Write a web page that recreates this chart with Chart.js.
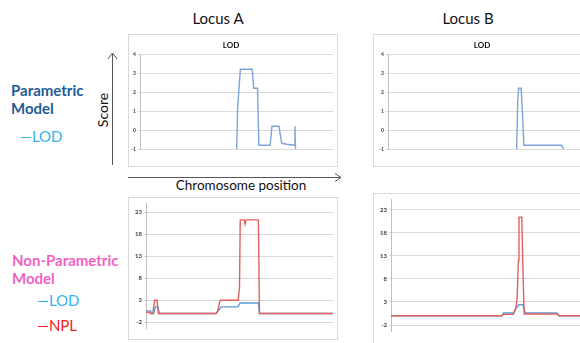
<!DOCTYPE html>
<html>
<head>
<meta charset="utf-8">
<script src="https://cdn.jsdelivr.net/npm/chart.js@4.4.1/dist/chart.umd.min.js"></script>
<style>
  html, body { margin: 0; padding: 0; background: #fff; }
  body { width: 580px; height: 343px; overflow: hidden; position: relative; font-family: Lato, "Open Sans", sans-serif; }
  .box { position: absolute; box-sizing: border-box; border: 1px solid #d9d9d9; background: #fff; }
  .box canvas { position: absolute; left: 0; top: 0; }
  .lbl { position: absolute; white-space: nowrap; transform: translate(-50%, -50%); }
  .side { position: absolute; white-space: nowrap; font-weight: bold; font-size: 15px; line-height: 18px; }
</style>
</head>
<body>

<div class="lbl" style="left:218px;top:18px;font-size:15px;color:#111;">Locus A</div>
<div class="lbl" style="left:468px;top:18px;font-size:15px;color:#111;">Locus B</div>
<div class="lbl" style="left:241px;top:185px;font-size:13.5px;color:#111;">Chromosome position</div>
<div class="lbl" style="left:102px;top:110px;font-size:14px;color:#111;transform:translate(-50%,-50%) rotate(-90deg);">Score</div>

<div class="side" style="left:11px;top:81px;color:#1f5d99;">Parametric<br>Model</div>
<div class="side" style="left:20px;top:127px;color:#35b2ef;font-weight:normal;">—LOD</div>
<div class="side" style="left:12px;top:251px;color:#f062c4;">Non-Parametric<br>Model</div>
<div class="side" style="left:37px;top:291px;color:#35b2ef;font-weight:normal;">—LOD</div>
<div class="side" style="left:37px;top:316px;color:#f41c1c;font-weight:normal;">—NPL</div>

<svg style="position:absolute;left:0;top:0;" width="580" height="343">
  <g stroke="#555" stroke-width="1" fill="none">
    <line x1="112.5" y1="54" x2="112.5" y2="165"/>
    <polyline points="108,59 112.5,53 117,59"/>
    <line x1="128" y1="177.5" x2="340" y2="177.5"/>
    <polyline points="335,173.5 341,177.5 335,181.5"/>
  </g>
</svg>

<div class="box" style="left:128px;top:34px;width:210px;height:133px;"><canvas id="c1"></canvas></div>
<div class="box" style="left:373px;top:34px;width:222px;height:133px;"><canvas id="c2"></canvas></div>
<div class="box" style="left:128px;top:197px;width:210px;height:143px;"><canvas id="c3"></canvas></div>
<div class="box" style="left:373px;top:193px;width:222px;height:160px;"><canvas id="c4"></canvas></div>

<script>
// positions along the chromosome are in % of the plotted range
const paramTicks = [-1, 0, 1, 2, 3, 4];
const npTicks = [-2, 3, 8, 13, 18, 23];

// Locus A, parametric LOD
const aParamPos = [50.1, 50.6, 52.0, 58.1, 58.9, 60.9, 61.6, 67.4, 68.4, 72.0, 73.4, 76.0, 80.0, 80.3, 80.6];
const aParamLod = [-1, 1.2, 3.2, 3.2, 2.2, 2.2, -0.8, -0.8, 0.2, 0.2, -0.7, -0.75, -0.8, 0.2, -1];

// Locus B, parametric LOD
const bParamPos = [63.7, 64.2, 64.7, 65.9, 66.4, 67.3, 86.0, 86.8];
const bParamLod = [-1, 1.5, 2.2, 2.2, 1.2, -0.8, -0.8, -1];

// Locus A, non-parametric
const aNpLodPos = [0, 2.3, 3.2, 4.1, 5.0, 6.4, 7.1, 37.4, 38.4, 40.2, 49.1, 50.4, 60.1, 60.7, 100];
const aNpLod = [0.6, 0.6, 0, 0, 1.5, 1.5, 0, 0, 0.5, 1.5, 1.5, 2.4, 2.4, 0, 0];
const aNplPos = [0, 1.4, 2.3, 3.6, 4.6, 5.9, 6.6, 37.4, 38.2, 39.7, 49.3, 50.0, 50.4, 52.5, 53.0, 53.6, 60.1, 60.7, 100];
const aNpl = [0.3, 0.3, 0, 0, 3, 3, 0, 0, 0.4, 3, 3, 6, 21.3, 21.3, 20.3, 21.3, 21.3, 0, 0];

// Locus B, non-parametric
const bNpLodPos = [0, 55.7, 56.5, 61.5, 62.5, 64.3, 66.2, 67.5, 83.3, 84.5, 100];
const bNpLod = [0, 0, 0.6, 0.6, 1.5, 2.4, 2.4, 0.6, 0.6, 0, 0];
const bNplPos = [0, 55.7, 56.5, 61.5, 62.7, 63.4, 64.0, 64.3, 65.7, 66.2, 66.9, 83.3, 84.5, 100];
const bNpl = [0, 0, 0.3, 0.3, 1.5, 4, 12, 21.4, 21.4, 12, 0.4, 0.4, 0, 0];

function pts(xs, ys) {
    return xs.map(function (x, i) { return { x: x, y: ys[i] }; });
}

function line(label, xs, ys, color, order) {
    return {
        label: label,
        data: pts(xs, ys),
        borderColor: color,
        borderWidth: 1.4,
        pointRadius: 0,
        tension: 0,
        fill: false,
        order: order
    };
}

function makeChart(id, w, h, datasets, o) {
    var cv = document.getElementById(id);
    cv.width = w; cv.height = h;
    cv.style.width = w + 'px'; cv.style.height = h + 'px';
    return new Chart(cv.getContext('2d'), {
        type: 'line',
        data: { datasets: datasets },
        options: {
            responsive: false,
            animation: false,
            layout: { padding: o.padding },
            plugins: {
                legend: { display: false },
                tooltip: { enabled: false },
                title: {
                    display: !!o.title,
                    text: o.title,
                    color: '#111',
                    font: { family: 'Lato', size: 8, weight: 'bold' },
                    padding: { top: 6, bottom: 3.4 }
                }
            },
            scales: {
                x: { type: 'linear', min: 0, max: 100, display: false },
                y: {
                    min: o.min,
                    max: o.max,
                    afterBuildTicks: function (s) { s.ticks = o.ticks.map(function (v) { return { value: v }; }); },
                    afterFit: function (s) { s.width = o.yWidth; },
                    border: { display: true, color: '#bfbfbf' },
                    grid: { color: '#d9d9d9', tickLength: 2 },
                    ticks: {
                        color: '#404040',
                        padding: 2,
                        font: { family: 'Lato', size: o.tickSize, weight: 'bold' }
                    }
                }
            }
        }
    });
}

makeChart('c1', 208, 131, [line('LOD', aParamPos, aParamLod, '#7ba5dc', 0)],
    { title: 'LOD', min: -1, max: 4, ticks: paramTicks, yWidth: 11, tickSize: 5, padding: { left: 0, right: 4, top: 0, bottom: 17 } });

makeChart('c2', 220, 131, [line('LOD', bParamPos, bParamLod, '#7ba5dc', 0)],
    { title: 'LOD', min: -1, max: 4, ticks: paramTicks, yWidth: 14, tickSize: 5, padding: { left: 0, right: 4, top: 0, bottom: 17 } });

makeChart('c3', 208, 141, [
        line('NPL', aNplPos, aNpl, '#e2615d', 0),
        line('LOD', aNpLodPos, aNpLod, '#5b9bd5', 1)
    ],
    { title: '', min: -3.3, max: 25, ticks: npTicks, yWidth: 17, tickSize: 6, padding: { left: 0, right: 4, top: 5, bottom: 11 } });

makeChart('c4', 220, 158, [
        line('NPL', bNplPos, bNpl, '#e2615d', 0),
        line('LOD', bNpLodPos, bNpLod, '#5b9bd5', 1)
    ],
    { title: '', min: -3.3, max: 25.2, ticks: npTicks, yWidth: 17, tickSize: 6, padding: { left: 0, right: 4, top: 4, bottom: 21 } });
</script>
</body>
</html>
